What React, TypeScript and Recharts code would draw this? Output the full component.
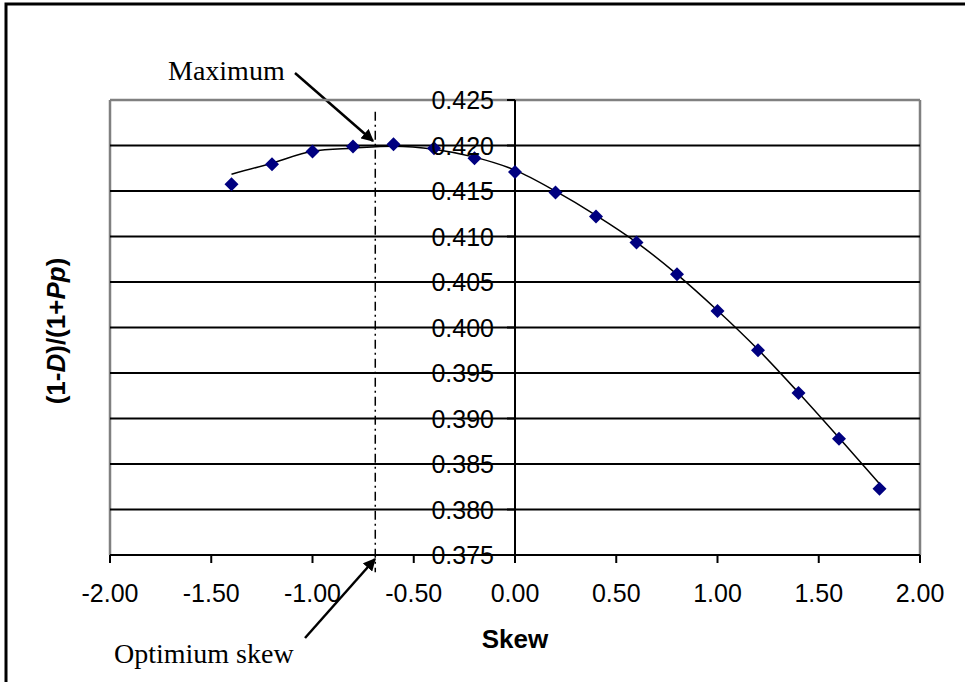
import React from "react";
import {
  ComposedChart,
  Line,
  Scatter,
  XAxis,
  YAxis,
  ReferenceLine,
} from "recharts";

// skew values of the computed points
const skew = [-1.4, -1.2, -1.0, -0.8, -0.6, -0.4, -0.2, 0.0, 0.2, 0.4, 0.6, 0.8, 1.0, 1.2, 1.4, 1.6, 1.8];
// (1-D)/(1+Pp) at each skew
const ratio = [
  0.41575, 0.41795, 0.41935, 0.4199, 0.42015, 0.41971, 0.41861, 0.41709, 0.41483,
  0.41219, 0.40933, 0.40584, 0.4018, 0.3975, 0.39281, 0.38778, 0.38227,
];
// trend curve
const trendSkew = [-1.4, -1.2, -1.0, -0.8, -0.6, -0.4, -0.2, 0.0, 0.2, 0.4, 0.6, 0.8, 1.0, 1.2, 1.4, 1.6, 1.8];
const trendRatio = [
  0.41685, 0.41806, 0.41938, 0.41971, 0.41993, 0.4196, 0.41872, 0.41729, 0.41498,
  0.41233, 0.40936, 0.40584, 0.40187, 0.39758, 0.39284, 0.38789, 0.38282,
];

const xTicks = [-2, -1.5, -1, -0.5, 0, 0.5, 1, 1.5, 2];
const yTicks = [0.375, 0.38, 0.385, 0.39, 0.395, 0.4, 0.405, 0.41, 0.415, 0.42, 0.425];
const gridValues = [0.38, 0.385, 0.39, 0.395, 0.4, 0.405, 0.41, 0.415, 0.42];
const optimumSkew = -0.69;

const W = 965;
const H = 682;
const PLOT_LEFT = 110;
const PLOT_W = 810;
const X_MIN = -2;
const X_MAX = 2;
const ZERO_X = PLOT_LEFT + ((0 - X_MIN) / (X_MAX - X_MIN)) * PLOT_W;

const SANS = "'Liberation Sans', Arial, sans-serif";
const SERIF = "'Liberation Serif', 'Times New Roman', serif";

const points = skew.map((s, i) => ({ x: s, y: ratio[i] }));
const trend = trendSkew.map((s, i) => ({ x: s, t: trendRatio[i] }));

function Diamond(props: any) {
  const { cx, cy } = props;
  const r = 7;
  return (
    <polygon
      points={`${cx},${cy - r} ${cx + r},${cy} ${cx},${cy + r} ${cx - r},${cy}`}
      fill="#000080"
    />
  );
}

function YTick(props: any) {
  const { y, payload } = props;
  return (
    <g>
      <line x1={ZERO_X - 8} x2={ZERO_X} y1={y} y2={y} stroke="#000" strokeWidth={2} />
      <text
        x={ZERO_X - 21}
        y={y}
        dy="0.36em"
        textAnchor="end"
        fontSize={25}
        fontFamily={SANS}
        fill="#000"
      >
        {Number(payload.value).toFixed(3)}
      </text>
    </g>
  );
}

function Annotations() {
  return (
    <g>
      <defs>
        <marker
          id="arrow"
          viewBox="0 0 10 10"
          refX="9"
          refY="5"
          markerWidth="5"
          markerHeight="5"
          orient="auto"
        >
          <path d="M0,0 L10,5 L0,10 z" fill="#000" />
        </marker>
      </defs>
      <rect x={6} y={4} width={1000} height={720} fill="none" stroke="#000" strokeWidth={3} />
      <text x={168} y={80} fontSize={28} fontFamily={SERIF} fill="#000">
        Maximum
      </text>
      <line x1={295} y1={73} x2={373} y2={141} stroke="#000" strokeWidth={2.5} markerEnd="url(#arrow)" />
      <text x={114} y={663} fontSize={28} fontFamily={SERIF} fill="#000">
        Optimium skew
      </text>
      <line x1={305} y1={638} x2={375} y2={559} stroke="#000" strokeWidth={2.5} markerEnd="url(#arrow)" />
      <text
        x={515}
        y={648}
        textAnchor="middle"
        fontSize={26}
        fontWeight="bold"
        fontFamily={SANS}
        fill="#000"
      >
        Skew
      </text>
      <text
        transform="rotate(-90, 65, 331)"
        x={65}
        y={331}
        textAnchor="middle"
        fontSize={26}
        fontWeight="bold"
        fontFamily={SANS}
        fill="#000"
      >
        (1-<tspan fontStyle="italic">D</tspan>)/(1+<tspan fontStyle="italic">Pp</tspan>)
      </text>
    </g>
  );
}

export default function App() {
  return (
    <div style={{ position: "absolute", left: 0, top: 0, background: "#fff" }}>
      <ComposedChart
        width={W}
        height={H}
        margin={{ top: 100, right: 45, left: 0, bottom: 0 }}
      >
        <XAxis
          type="number"
          dataKey="x"
          domain={[X_MIN, X_MAX]}
          ticks={xTicks}
          tickFormatter={(v: number) => v.toFixed(2)}
          height={127}
          stroke="#000"
          axisLine={{ stroke: "#000", strokeWidth: 2 }}
          tickLine={{ stroke: "#000", strokeWidth: 2 }}
          tickSize={8}
          tickMargin={21}
          tick={{ fontSize: 25, fontFamily: SANS, fill: "#000" }}
          allowDataOverflow
        />
        <YAxis
          type="number"
          domain={[0.375, 0.425]}
          ticks={yTicks}
          width={110}
          axisLine={false}
          tickLine={false}
          tick={<YTick />}
          allowDataOverflow
        />
        <ReferenceLine y={0.425} stroke="#808080" strokeWidth={2.5} />
        <ReferenceLine x={X_MIN} stroke="#808080" strokeWidth={2.5} />
        <ReferenceLine x={X_MAX} stroke="#808080" strokeWidth={2.5} />
        {gridValues.map((v) => (
          <ReferenceLine key={v} y={v} stroke="#000" strokeWidth={2} />
        ))}
        <ReferenceLine x={0} stroke="#000" strokeWidth={2} />
        <ReferenceLine
          segment={[
            { x: optimumSkew, y: 0.4237 },
            { x: optimumSkew, y: 0.3731 },
          ]}
          ifOverflow="visible"
          stroke="#000"
          strokeWidth={1.5}
          strokeDasharray="9 4 2 4"
        />
        <Line
          data={trend}
          dataKey="t"
          type="monotone"
          stroke="#000"
          strokeWidth={1.5}
          dot={false}
          isAnimationActive={false}
        />
        <Scatter
          data={points}
          dataKey="y"
          shape={<Diamond />}
          isAnimationActive={false}
        />
        <Annotations />
      </ComposedChart>
    </div>
  );
}
